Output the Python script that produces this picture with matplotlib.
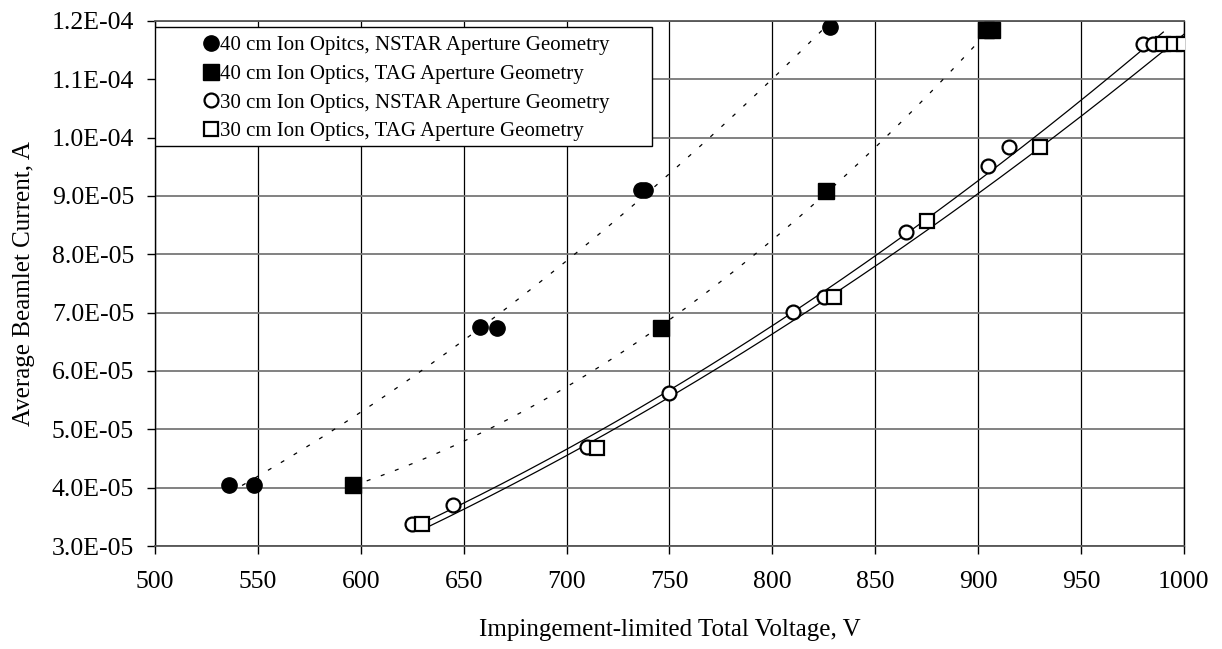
import numpy as np
import matplotlib
matplotlib.use("Agg")
import matplotlib.pyplot as plt
from matplotlib.patches import Rectangle
from matplotlib.ticker import FuncFormatter, MultipleLocator

plt.rcParams['font.family'] = ['Liberation Serif', 'DejaVu Serif']

# 40 cm optics, NSTAR geometry
v40_nstar = [536, 548, 658, 666, 736, 738, 828]
i40_nstar = [4.04e-5, 4.05e-5, 6.75e-5, 6.74e-5, 9.10e-5, 9.10e-5, 1.19e-4]
# 40 cm optics, TAG geometry
v40_tag = [596, 746, 826, 904, 907]
i40_tag = [4.04e-5, 6.74e-5, 9.09e-5, 1.184e-4, 1.184e-4]
# 30 cm optics, NSTAR geometry
v30_nstar = [625, 645, 710, 750, 810, 825, 865, 905, 915, 980, 985, 990]
i30_nstar = [3.37e-5, 3.71e-5, 4.69e-5, 5.62e-5, 7.01e-5, 7.27e-5, 8.38e-5,
             9.52e-5, 9.84e-5, 1.161e-4, 1.161e-4, 1.161e-4]
# 30 cm optics, TAG geometry
v30_tag = [630, 715, 830, 875, 930, 990, 995, 1000]
i30_tag = [3.37e-5, 4.68e-5, 7.27e-5, 8.57e-5, 9.84e-5, 1.161e-4, 1.161e-4, 1.161e-4]

labels = ['40 cm Ion Opitcs, NSTAR Aperture Geometry',
          '40 cm Ion Optics, TAG Aperture Geometry',
          '30 cm Ion Optics, NSTAR Aperture Geometry',
          '30 cm Ion Optics, TAG Aperture Geometry']

fig = plt.figure(figsize=(12.22, 6.49), dpi=100)
ax = fig.add_axes([0.1268, 0.1587, 0.842, 0.809])


def trend(x, y, **kw):
    c = np.polyfit(x, y, 2)
    xs = np.linspace(min(x), max(x), 200)
    ax.plot(xs, np.polyval(c, xs), color='black', zorder=2, **kw)


trend(v40_nstar, i40_nstar, lw=0.9, dashes=(3.2, 8.8))
trend(v40_tag, i40_tag, lw=0.9, dashes=(3.2, 8.8))
trend(v30_nstar, i30_nstar, lw=0.9)
trend(v30_tag, i30_tag, lw=0.9)

ax.plot(v40_nstar, i40_nstar, 'o', ms=11, color='black', label=labels[0], zorder=4)
ax.plot(v40_tag, i40_tag, 's', ms=11, color='black', label=labels[1], zorder=4)
ax.plot(v30_nstar, i30_nstar, 'o', ms=10, mfc='white', mec='black', mew=1.6,
        label=labels[2], zorder=4)
ax.plot(v30_tag, i30_tag, 's', ms=10, mfc='white', mec='black', mew=1.6,
        label=labels[3], zorder=5)

ax.set_xlim(500, 1000)
ax.set_ylim(3.0e-5, 1.2e-4)
ax.xaxis.set_major_locator(MultipleLocator(50))
ax.yaxis.set_major_locator(MultipleLocator(1e-5))
ax.yaxis.set_major_formatter(FuncFormatter(lambda v, p: f"{v:.1E}"))

ax.grid(axis='y', color='#777777', lw=1.3, zorder=0)
ax.grid(axis='x', color='black', lw=0.9, zorder=0)
ax.set_axisbelow(True)
for s in ['top', 'bottom']:
    ax.spines[s].set_color('#555555')
    ax.spines[s].set_linewidth(1.3)
for s in ['left', 'right']:
    ax.spines[s].set_color('black')
    ax.spines[s].set_linewidth(1.0)

ax.tick_params(axis='both', direction='out', length=6, width=1, labelsize=18.5)
ax.tick_params(axis='x', pad=12)
ax.tick_params(axis='y', pad=9)

ax.set_xlabel('Impingement-limited Total Voltage, V', fontsize=18, labelpad=19)
ax.set_ylabel('Average Beamlet Current, A', fontsize=18, labelpad=12)

ax.add_patch(Rectangle((0.0, 0.762), 0.483, 0.227, transform=ax.transAxes,
                       facecolor='white', edgecolor='black', lw=1.0, zorder=3))
leg = ax.legend(loc='upper left', bbox_to_anchor=(0.032, 1.004), frameon=False,
                fontsize=15, handlelength=0.6, handletextpad=0.15,
                labelspacing=0.44, borderpad=0.3, markerscale=1.0)
leg.set_zorder(6)

fig.savefig('out.png', dpi=100)
